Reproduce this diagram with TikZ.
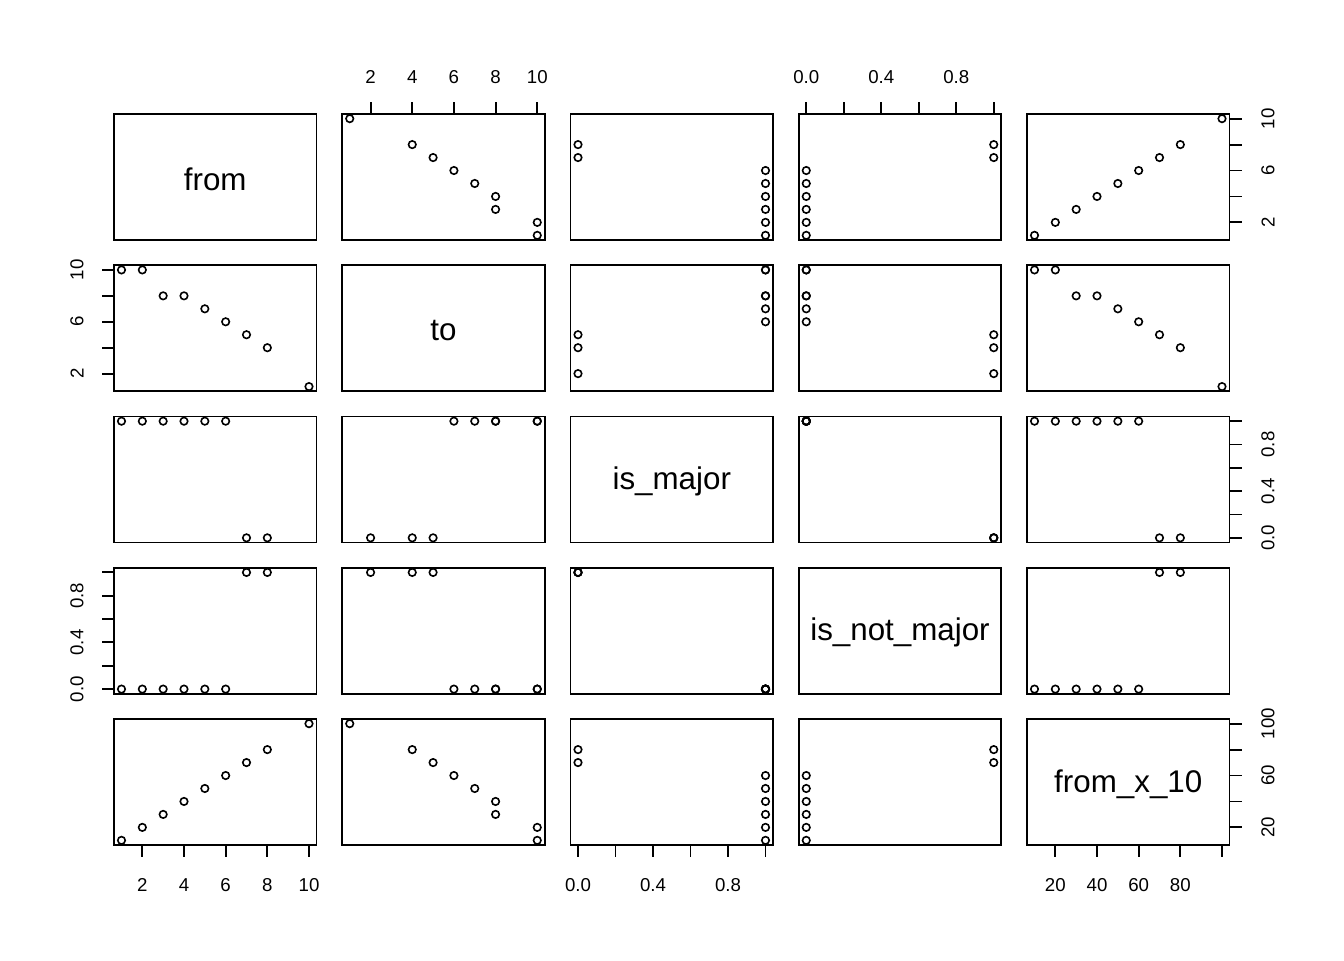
\documentclass[tikz,border=0pt]{standalone}
\usepackage{fontspec}
\setmainfont{Liberation Sans}
\usetikzlibrary{calc}

% ranges of the five variables and the data (-1 = missing)
\def\lows{{1,1,0,0,10}}
\def\highs{{10,10,1,1,100}}
\def\vals{{1,2,3,4,5,6,7,8,10,-1, 10,10,8,8,7,6,5,4,1,2, 1,1,1,1,1,1,0,0,-1,0, 0,0,0,0,0,0,1,1,-1,1, 10,20,30,40,50,60,70,80,100,-1}}

\newcommand{\colx}[2]{\pgfmathsetmacro{\px}{114+(#1-1)*228.25+202.5*(((#2)-\lows[#1-1])/(\highs[#1-1]-\lows[#1-1])+0.04)/1.08}}
\newcommand{\rowy}[2]{\pgfmathsetmacro{\py}{114+(#1-1)*151.25+126-126*(((#2)-\lows[#1-1])/(\highs[#1-1]-\lows[#1-1])+0.04)/1.08}}

\newcommand{\topaxis}[3]{%
  \foreach \v in {#2} {\colx{#1}{\v} \draw[tick] (\px,114) -- (\px,102);}
  \foreach \v/\lab [count=\i] in {#3} {\colx{#1}{\v} \node[ticklab] (top#1-\i) at (\px,77) {\lab};}}
\newcommand{\bottomaxis}[3]{%
  \foreach \v in {#2} {\colx{#1}{\v} \draw[tick] (\px,845) -- (\px,857);}
  \foreach \v/\lab [count=\i] in {#3} {\colx{#1}{\v} \node[ticklab] (bot#1-\i) at (\px,885) {\lab};}}
\newcommand{\leftaxis}[3]{%
  \foreach \v in {#2} {\rowy{#1}{\v} \draw[tick] (114,\py) -- (102,\py);}
  \foreach \v/\lab [count=\i] in {#3} {\rowy{#1}{\v} \node[ticklab, rotate=90] (left#1-\i) at (77,\py) {\lab};}}
\newcommand{\rightaxis}[3]{%
  \foreach \v in {#2} {\rowy{#1}{\v} \draw[tick] (1229.5,\py) -- (1241.5,\py);}
  \foreach \v/\lab [count=\i] in {#3} {\rowy{#1}{\v} \node[ticklab, rotate=90] (right#1-\i) at (1268,\py) {\lab};}}

\begin{document}
\begin{tikzpicture}[x=0.75pt, y=-0.75pt,
    panel/.style={draw, line width=1.4pt},
    tick/.style={line width=1.4pt},
    pt/.style={line width=1.2pt},
    ticklab/.style={inner sep=0pt, font=\fontsize{14}{16}\selectfont},
    varname/.style={inner sep=0pt, font=\fontsize{23.5}{27}\selectfont}]
  \useasboundingbox (0,0) rectangle (1344,960);

  % boxes
  \foreach \r in {1,...,5}
    \foreach \c in {1,...,5}
      \draw[panel] ({114+(\c-1)*228.25},{114+(\r-1)*151.25}) rectangle ++(202.5,126);

  % names on the diagonal
  \foreach \i/\name in {1/from, 2/to, 3/is\_major, 4/is\_not\_major, 5/from\_x\_10}
    \node[varname] (diag\i) at ({114+(\i-1)*228.25+101.25},{114+(\i-1)*151.25+65}) {\name};

  % scatter points
  \foreach \r in {1,...,5}
    \foreach \c in {1,...,5} {
      \ifnum\r=\c\relax\else
        \foreach \k in {0,...,9} {
          \pgfmathsetmacro{\xv}{\vals[(\c-1)*10+\k]}
          \pgfmathsetmacro{\yv}{\vals[(\r-1)*10+\k]}
          \pgfmathtruncatemacro{\ok}{and(\xv>-0.5,\yv>-0.5)}
          \ifnum\ok=1
            \colx{\c}{\xv} \rowy{\r}{\yv}
            \draw[pt] (\px,\py) circle[radius=2.8pt];
          \fi
        }
      \fi
    }

  % axes
  \topaxis{2}{2,4,...,10}{2/2,4/4,6/6,8/8,10/10}
  \topaxis{4}{0,0.2,...,1}{0/0.0,0.4/0.4,0.8/0.8}
  \bottomaxis{1}{2,4,...,10}{2/2,4/4,6/6,8/8,10/10}
  \bottomaxis{3}{0,0.2,...,1}{0/0.0,0.4/0.4,0.8/0.8}
  \bottomaxis{5}{20,40,...,100}{20/20,40/40,60/60,80/80}
  \leftaxis{2}{2,4,...,10}{2/2,6/6,10/10}
  \leftaxis{4}{0,0.2,...,1}{0/0.0,0.4/0.4,0.8/0.8}
  \rightaxis{1}{2,4,...,10}{2/2,6/6,10/10}
  \rightaxis{3}{0,0.2,...,1}{0/0.0,0.4/0.4,0.8/0.8}
  \rightaxis{5}{20,40,...,100}{20/20,60/60,100/100}
\end{tikzpicture}
\end{document}
